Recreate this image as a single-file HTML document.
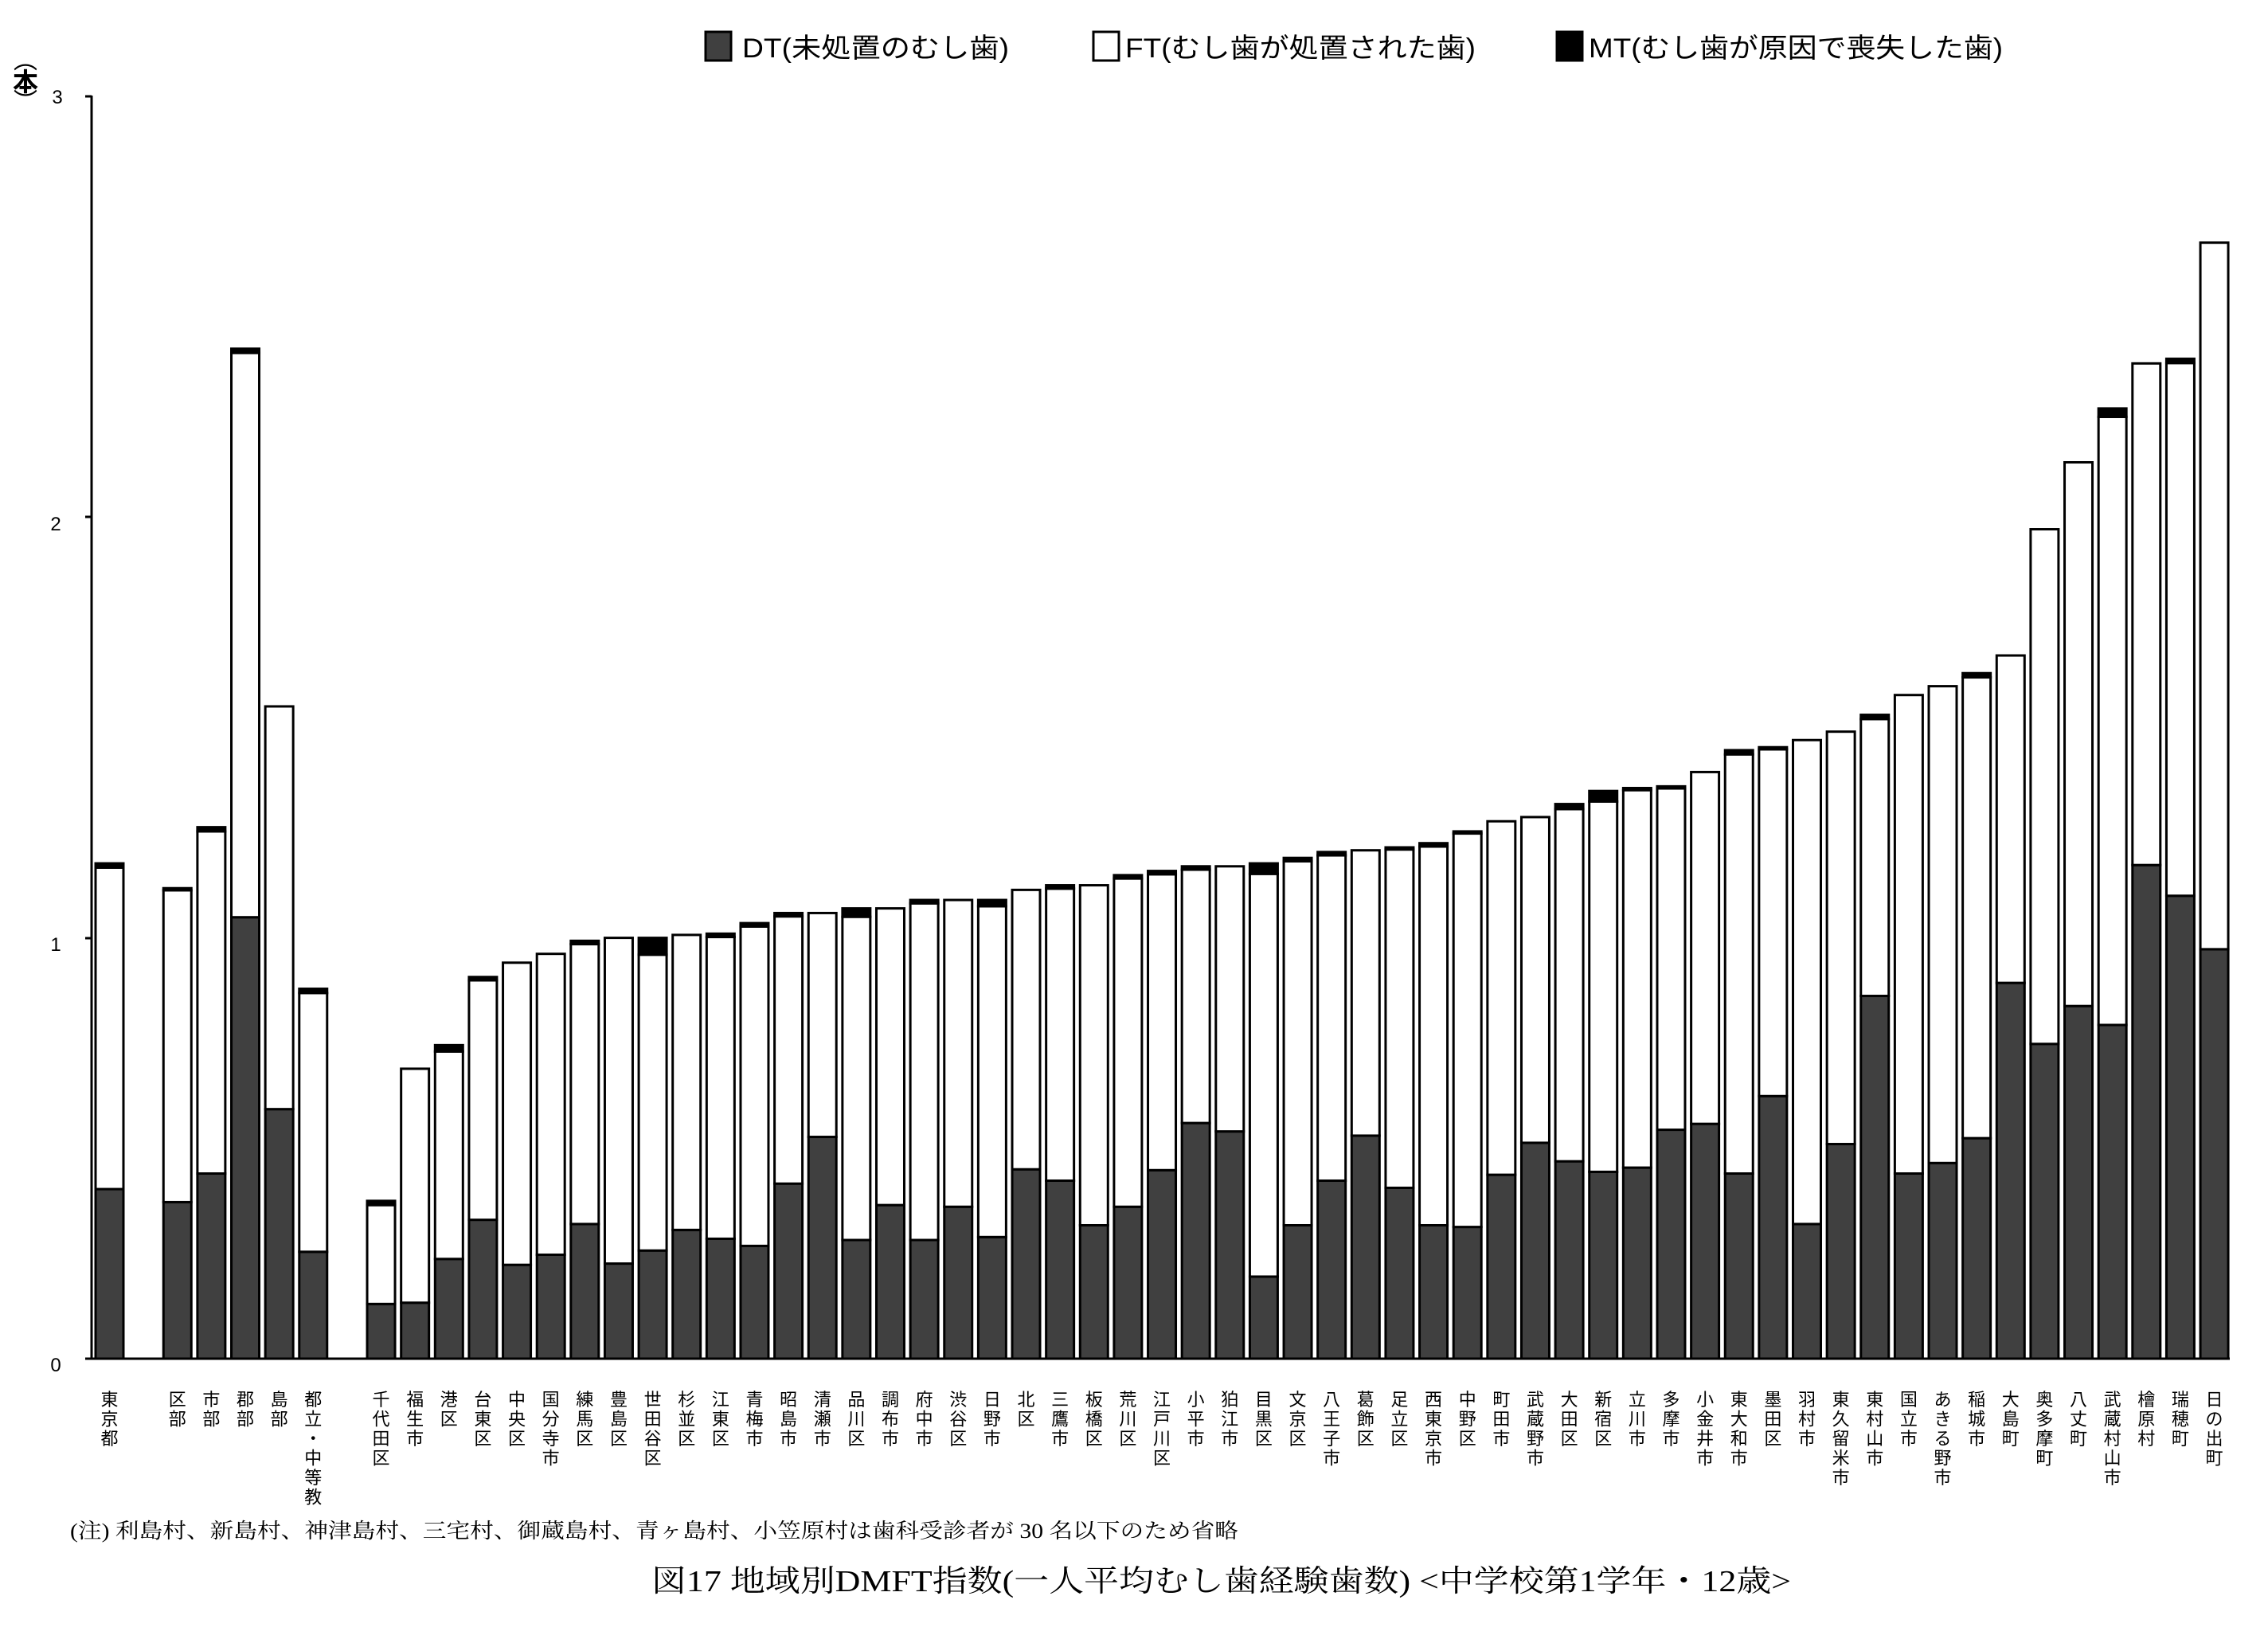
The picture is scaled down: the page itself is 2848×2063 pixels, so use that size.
<!DOCTYPE html>
<html><head><meta charset="utf-8">
<style>
html,body{margin:0;padding:0;background:#fff;}
svg{display:block;}
text{font-family:"Liberation Sans","Noto Sans CJK JP",sans-serif;}
.serif{font-family:"Liberation Serif","Noto Serif CJK SC",serif;}
</style></head>
<body>
<svg id="c" width="2848" height="2063" viewBox="0 0 2848 2063" xmlns="http://www.w3.org/2000/svg">
<rect width="2848" height="2063" fill="#fff"/>
<!-- legend -->
<rect x="886" y="40" width="32" height="36" fill="#404040" stroke="#000" stroke-width="3"/>
<text x="932" y="72" font-size="34" textLength="335" lengthAdjust="spacingAndGlyphs">DT(未処置のむし歯)</text>
<rect x="1373" y="40" width="32" height="36" fill="#fff" stroke="#000" stroke-width="3"/>
<text x="1413" y="72" font-size="34" textLength="440" lengthAdjust="spacingAndGlyphs">FT(むし歯が処置された歯)</text>
<rect x="1955" y="40" width="32" height="36" fill="#000" stroke="#000" stroke-width="3"/>
<text x="1995" y="72" font-size="34" textLength="520" lengthAdjust="spacingAndGlyphs">MT(むし歯が原因で喪失した歯)</text>
<!-- y label -->
<text x="32" y="86" font-size="30" text-anchor="middle">︵</text>
<text x="32" y="114" font-size="32" text-anchor="middle" font-weight="bold">本</text>
<text x="32" y="138" font-size="30" text-anchor="middle">︶</text>
<!-- y ticks -->
<text x="72" y="130" font-size="24" text-anchor="middle">3</text>
<text x="70" y="666" font-size="24" text-anchor="middle">2</text>
<text x="70" y="1194" font-size="24" text-anchor="middle">1</text>
<text x="70" y="1722" font-size="24" text-anchor="middle">0</text>
<g id="bars"></g>
<line x1="115" y1="120" x2="115" y2="1707" stroke="#000" stroke-width="3"/>
<line x1="107" y1="1706" x2="2800" y2="1706" stroke="#000" stroke-width="3"/>
<line x1="107" y1="121" x2="115" y2="121" stroke="#000" stroke-width="3"/>
<line x1="107" y1="649" x2="115" y2="649" stroke="#000" stroke-width="3"/>
<line x1="107" y1="1178" x2="115" y2="1178" stroke="#000" stroke-width="3"/>
<text class="serif" x="88" y="1931" font-size="26" textLength="1467" lengthAdjust="spacingAndGlyphs">(注) 利島村、新島村、神津島村、三宅村、御蔵島村、青ヶ島村、小笠原村は歯科受診者が 30 名以下のため省略</text>
<text class="serif" x="818" y="1998" font-size="38" textLength="1431" lengthAdjust="spacingAndGlyphs">図17  地域別DMFT指数(一人平均むし歯経験歯数)   &lt;中学校第1学年・12歳&gt;</text>
</svg>
<script>
var D=[
["東京都",1.177,0.403,0.01],null,
["区部",1.118,0.372,0.005],["市部",1.263,0.44,0.01],["郡部",2.40,1.049,0.01],["島部",1.55,0.593,0],["都立・中等教",0.879,0.254,0.01],null,
["千代田区",0.375,0.13,0.01],["福生市",0.689,0.133,0],["港区",0.745,0.237,0.015],["台東区",0.907,0.33,0.008],["中央区",0.941,0.223,0],["国分寺市",0.962,0.247,0],["練馬区",0.993,0.32,0.008],["豊島区",1.0,0.226,0],["世田谷区",1.0,0.257,0.04],["杉並区",1.007,0.306,0],["江東区",1.01,0.285,0.008],["青梅市",1.035,0.268,0.008],["昭島市",1.059,0.416,0.008],["清瀬市",1.059,0.527,0],["品川区",1.07,0.282,0.02],["調布市",1.07,0.365,0],["府中市",1.09,0.282,0.008],["渋谷区",1.09,0.361,0],["日野市",1.09,0.289,0.015],["北区",1.114,0.45,0],["三鷹市",1.125,0.423,0.008],["板橋区",1.125,0.317,0],["荒川区",1.149,0.361,0.008],["江戸川区",1.159,0.448,0.008],["小平市",1.17,0.56,0.008],["狛江市",1.17,0.54,0],["目黒区",1.177,0.195,0.025],["文京区",1.19,0.317,0.008],["八王子市",1.204,0.423,0.008],["葛飾区",1.208,0.53,0],["足立区",1.215,0.406,0.005],["西東京市",1.225,0.317,0.008],["中野区",1.253,0.313,0.005],["町田市",1.277,0.437,0],["武蔵野市",1.287,0.513,0],["大田区",1.318,0.469,0.012],["新宿区",1.349,0.444,0.025],["立川市",1.356,0.454,0.005],["多摩市",1.36,0.544,0.005],["小金井市",1.394,0.558,0],["東大和市",1.446,0.44,0.01],["墨田区",1.453,0.624,0.005],["羽村市",1.47,0.32,0],["東久留米市",1.49,0.51,0],["東村山市",1.53,0.862,0.01],["国立市",1.577,0.44,0],["あきる野市",1.598,0.465,0],["稲城市",1.629,0.524,0.01],["大島町",1.671,0.893,0],["奥多摩町",1.971,0.748,0],["八丈町",2.13,0.838,0],["武蔵村山市",2.258,0.793,0.02],["檜原村",2.365,1.173,0],["瑞穂町",2.376,1.1,0.01],["日の出町",2.652,0.973,0]
];
var NS="http://www.w3.org/2000/svg",g=document.getElementById("bars");
var y0=1706,u=528.4,w=35,p=42.63;
function R(x,y,h,f){if(h<=0)return;var r=document.createElementNS(NS,"rect");r.setAttribute("x",x);r.setAttribute("y",y);r.setAttribute("width",w);r.setAttribute("height",h);r.setAttribute("fill",f);r.setAttribute("stroke","#000");r.setAttribute("stroke-width","3");g.appendChild(r);}
D.forEach(function(d,i){if(!d)return;var x=120+i*p;
var tot=d[1],dt=d[2],mt=d[3],ft=tot-dt-mt;
R(x,y0-dt*u,dt*u,"#404040");
R(x,y0-(dt+ft)*u,ft*u,"#fff");
if(mt>0)R(x,y0-tot*u,mt*u,"#000");
var t=document.createElementNS(NS,"text");t.setAttribute("font-size","22");t.setAttribute("text-anchor","middle");
var ch=Array.from(d[0]);ch.forEach(function(c,k){var s=document.createElementNS(NS,"tspan");s.setAttribute("x",x+w/2);s.setAttribute("y",1765+k*24.5);s.textContent=c;t.appendChild(s);});
g.appendChild(t);});
</script>
</body></html>
